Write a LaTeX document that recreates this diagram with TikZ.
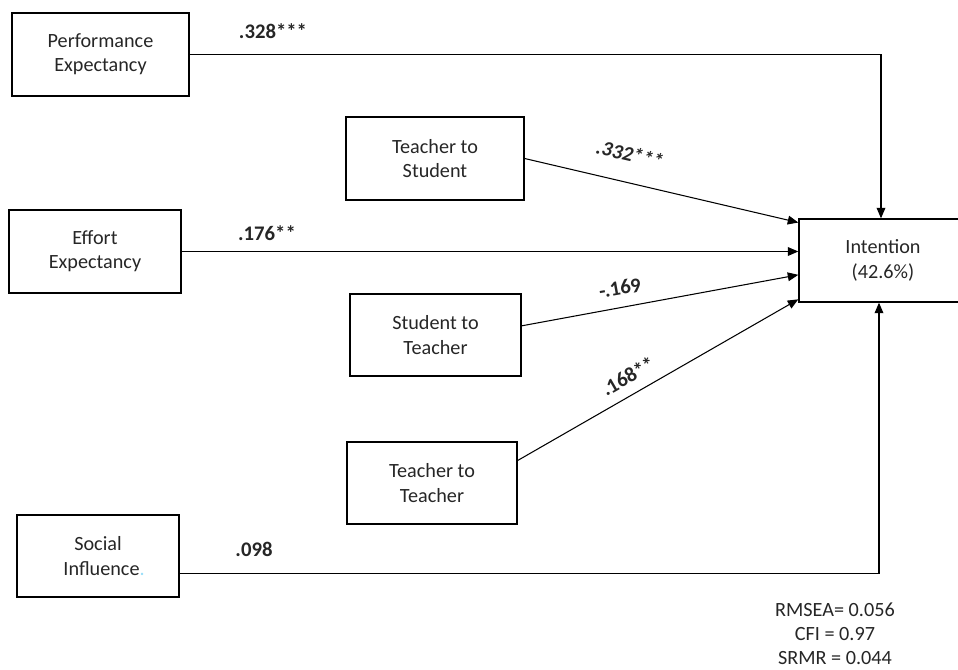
\documentclass[tikz,border=0pt]{standalone}
\usepackage{fontspec}
\setmainfont{Carlito}
\usetikzlibrary{arrows.meta,calc}

\tikzset{
  box/.style={draw,line width=0.8pt,align=center,inner sep=0pt,
    font=\fontsize{11.5}{13.8}\selectfont,text=black!85},
  coef/.style={font=\fontsize{11.8}{13.8}\selectfont\bfseries,text=black!85,inner sep=0pt},
  path/.style={line width=0.6pt,-{Triangle[length=6pt,width=5pt]}}
}

\begin{document}
\begin{tikzpicture}[x=0.02cm,y=-0.02cm]
\useasboundingbox (0,0) rectangle (958,670);

% constructs
\node[box,minimum width=3.54cm,minimum height=1.66cm] (perf) at (100.5,54.5) {Performance\\Expectancy};
\node[box,minimum width=3.56cm,minimum height=1.66cm] (ts) at (435,158.5) {Teacher to\\Student};
\node[box,minimum width=3.44cm,minimum height=1.66cm] (effort) at (95,251.5) {Effort\\Expectancy};
\node[box,minimum width=3.42cm,minimum height=1.64cm] (st) at (435.5,335) {Student to\\Teacher};
\node[box,minimum width=3.40cm,minimum height=1.64cm] (tt) at (432,483) {Teacher to\\Teacher};
\node[box,minimum width=3.24cm,minimum height=1.64cm] (social) at (98,556) {Social\\\hspace*{0.6em}Influence{\color{cyan!40}.}};
\node[box,minimum width=3.36cm,minimum height=1.66cm] (intention) at (883,260.5) {Intention\\(42.6\%)};

% end points on the left side of intention
\coordinate (in1) at ($(intention.north west)!0.05!(intention.south west)$);
\coordinate (in3) at ($(intention.north west)!0.67!(intention.south west)$);
\coordinate (in4) at ($(intention.north west)!0.96!(intention.south west)$);
\coordinate (stout) at ($(st.north east)!0.39!(st.south east)$);
\coordinate (ttout) at ($(tt.north east)!0.23!(tt.south east)$);
\coordinate (siout) at ($(social.north east)!0.71!(social.south east)$);

% paths
\draw[path] (perf.east) -| ([xshift=-0.04cm]intention.north);
\draw[path] (ts.east) -- (in1);
\draw[path] (effort.east) -- (effort.east -| intention.west);
\draw[path] (stout) -- (in3);
\draw[path] (ttout) -- (in4);
\draw[path] (siout) -| ([xshift=-0.08cm]intention.south);

% coefficients
\node[coef] (c1) at (273,31) {.328***};
\node[coef,rotate=-13] (c2) at (630,154) {\itshape .332***};
\node[coef] (c3) at (267,233) {.176**};
\node[coef,rotate=10] (c4) at (620,288) {-.169};
\node[coef,rotate=30] (c5) at (628,376) {.168**};
\node[coef] (c6) at (254,549) {.098};

% fit
\node[align=center,font=\fontsize{11.5}{13.6}\selectfont,text=black!85] (fit) at (835,634)
  {RMSEA= 0.056\\CFI = 0.97\\SRMR = 0.044};
\end{tikzpicture}
\end{document}
